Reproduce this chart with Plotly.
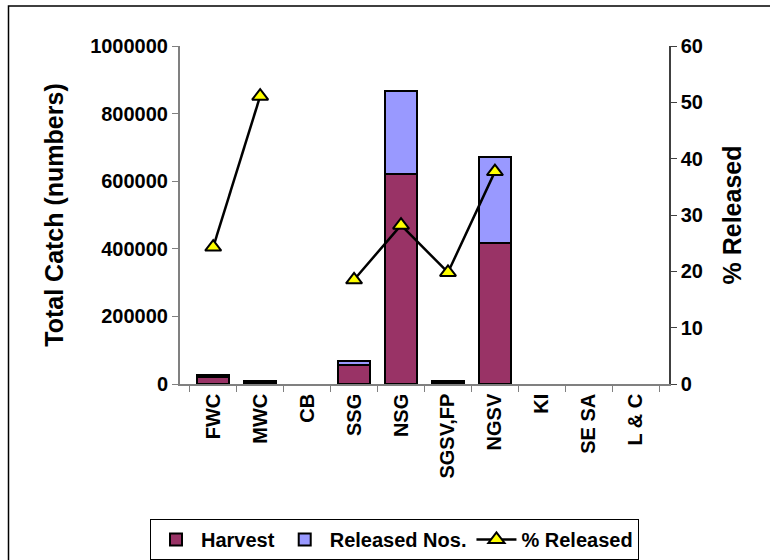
import plotly.graph_objects as go

categories = ["FWC", "MWC", "CB", "SSG", "NSG", "SGSV,FP", "NGSV", "KI", "SE SA", "L & C"]
harvest = [19700, 4400, None, 55400, 621000, 7200, 417000, None, None, None]
released = [6300, 4600, None, 12600, 245000, 1800, 255000, None, None, None]
pct_released = [24.3, 51.1, None, 18.5, 28.2, 19.8, 37.7, None, None, None]

FONT = "Liberation Sans, Arial, sans-serif"

fig = go.Figure()
fig.add_trace(go.Bar(
    x=categories, y=harvest, name="Harvest",
    marker=dict(color="#993366", line=dict(color="black", width=2)),
))
fig.add_trace(go.Bar(
    x=categories, y=released, name="Released Nos.",
    marker=dict(color="#9999FF", line=dict(color="black", width=2)),
))
fig.add_trace(go.Scatter(
    x=categories, y=pct_released, name="% Released", yaxis="y2",
    mode="lines+markers", connectgaps=False,
    line=dict(color="black", width=2.5),
    marker=dict(symbol="triangle-up", size=14, color="#FFFF00",
                line=dict(color="black", width=2)),
))

# outer chart border (extends beyond the visible canvas on right/bottom)
fig.add_shape(type="rect", xref="paper", yref="paper",
              x0=(8.5 - 180) / 489, x1=(790 - 180) / 489,
              y0=(384 - 580) / 338, y1=(384 - 6) / 338,
              line=dict(color="black", width=1.5), fillcolor="rgba(0,0,0,0)",
              layer="below")

fig.update_layout(
    width=770, height=560,
    margin=dict(l=180, r=101, t=46, b=176, autoexpand=False),
    paper_bgcolor="white", plot_bgcolor="white",
    barmode="stack", bargap=0.33,
    font=dict(family=FONT, size=20, color="black"),
    showlegend=True,
    legend=dict(
        orientation="h", traceorder="normal",
        x=(394.5 - 180) / 489, xanchor="center",
        y=(384 - 519) / 338, yanchor="top",
        bordercolor="black", borderwidth=1,
        font=dict(family=FONT, size=20, color="black", weight="bold"),
        itemwidth=40,
    ),
    xaxis=dict(
        type="category", tickangle=-90, tickson="boundaries",
        ticks="outside", ticklen=6, tickcolor="#808080",
        showline=True, linecolor="#808080", linewidth=1.5,
        showgrid=False, zeroline=False,
        tickfont=dict(family=FONT, size=20, color="black", weight="bold"),
    ),
    yaxis=dict(
        range=[0, 1000000], dtick=200000, tickformat="d",
        ticks="outside", ticklen=6, tickcolor="#808080",
        showline=True, linecolor="#808080", linewidth=2,
        showgrid=False, zeroline=False,
        tickfont=dict(family=FONT, size=20, color="black", weight="bold"),
        title=dict(text="Total Catch (numbers)", standoff=19,
                   font=dict(family=FONT, size=25, color="black", weight="bold")),
    ),
    yaxis2=dict(
        overlaying="y", side="right", range=[0, 60], dtick=10,
        ticks="outside", ticklen=6, tickcolor="#404040",
        showline=True, linecolor="#404040", linewidth=1.5,
        showgrid=False, zeroline=False,
        tickfont=dict(family=FONT, size=20, color="black", weight="bold"),
        title=dict(text="% Released", standoff=21,
                   font=dict(family=FONT, size=25, color="black", weight="bold")),
    ),
)

fig.write_html(
    "out.html",
    config={"displayModeBar": False},
    post_script="document.body.style.margin='0';document.body.style.overflow='hidden';",
)
